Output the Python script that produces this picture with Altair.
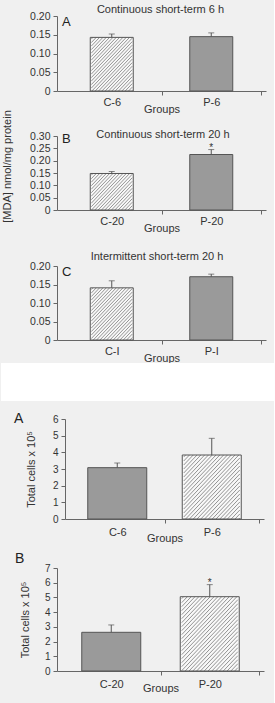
import altair as alt
import numpy as np
import pandas as pd

FONT = "Liberation Sans"

# Lipid peroxidation (MDA), mean and SEM per group
mda_a_groups = ["C-6", "P-6"]
mda_a_mean = [0.143, 0.145]
mda_a_sem = [0.009, 0.010]

mda_b_groups = ["C-20", "P-20"]
mda_b_mean = [0.148, 0.225]
mda_b_sem = [0.008, 0.020]

mda_c_groups = ["C-I", "P-I"]
mda_c_mean = [0.141, 0.171]
mda_c_sem = [0.019, 0.007]

# Total cell counts (x 10^5), mean and SEM per group
cells_a_groups = ["C-6", "P-6"]
cells_a_mean = [3.08, 3.84]
cells_a_sem = [0.28, 1.00]

cells_b_groups = ["C-20", "P-20"]
cells_b_mean = [2.63, 5.05]
cells_b_sem = [0.50, 0.82]

BAR_FILL = "#9a9a9a"
HATCH_BG = "#f8f8f8"
LINE = "#555555"


def hatch_segments(xs, means, hatched, bar_px, kx, ky, gap):
    """45-degree '/' hatch lines clipped to each hatched bar, in data units."""
    rows = []
    for x, m, h in zip(xs, means, hatched):
        if not h:
            continue
        x0 = x - bar_px / 2.0 / kx
        w = bar_px
        hh = m * ky
        for c in np.arange(-hh + gap / 2.0, w, gap):
            u0 = max(0.0, c)
            u1 = min(w, c + hh)
            if u1 <= u0:
                continue
            rows.append({
                "hx": x0 + u0 / kx, "hy": (u0 - c) / ky,
                "hx2": x0 + u1 / kx, "hy2": (u1 - c) / ky,
            })
    return pd.DataFrame(rows)


def panel(groups, mean, sem, hatched, stars, ymax, ystep, decimals, width, height,
          bar_px, gap, ytitle, ytitle_pad, title, title_x, title_y, letter,
          letter_x, letter_y, letter_size, label_pad, title_pad, ylabel_size,
          inset=0, band=None, ytitle_y=None):
    # the plot spans [inset, width] horizontally; the y axis sits at the inset
    kx = (width - inset) / 2.0
    ky = height / ymax
    xs = [i + 0.5 for i in range(len(groups))]
    df = pd.DataFrame({
        "x": xs, "group": groups, "mean": mean,
        "top": [m + s for m, s in zip(mean, sem)],
        "hatched": hatched,
        "star": ["*" if s else "" for s in stars],
    })
    label_expr = " : ".join(f"datum.value == {x} ? '{g}'" for x, g in zip(xs, groups)) + " : ''"
    xaxis = alt.Axis(
        values=[0.5, 1.0, 1.5, 2.0], labelExpr=label_expr, title="Groups",
        tickSize=4, labelPadding=label_pad, titlePadding=title_pad,
        tickOpacity={"condition": {"test": "datum.value == 1 || datum.value == 2", "value": 1},
                     "value": 0},
        labelFontSize=11, titleFontSize=11,
    )
    if inset:
        xscale = alt.Scale(domain=[0, 2], nice=False, zero=False, range=[inset, width])
    else:
        xscale = alt.Scale(domain=[0, 2], nice=False, zero=False)
    nticks = int(round(ymax / ystep))
    yvals = [round(i * ystep, 4) for i in range(nticks + 1)]
    if decimals:
        yexpr = f"datum.value == 0 ? '0' : format(datum.value, '.{decimals}f')"
    else:
        yexpr = "format(datum.value, 'd')"
    yaxis_kw = dict(values=yvals, labelExpr=yexpr, tickSize=4, labelPadding=3,
                    labelFontSize=ylabel_size)
    if inset:
        yaxis_kw["offset"] = -inset
    if ytitle:
        if ytitle_y is not None:
            yaxis_kw["titleY"] = ytitle_y
        yaxis = alt.Axis(title=ytitle, titlePadding=ytitle_pad, titleFontSize=11, **yaxis_kw)
    else:
        yaxis = alt.Axis(title=None, **yaxis_kw)
    yscale = alt.Scale(domain=[0, ymax], nice=False)

    def X(f):
        return alt.X(f, type="quantitative", scale=xscale, axis=xaxis)

    def Y(f):
        return alt.Y(f, type="quantitative", scale=yscale, axis=yaxis)

    base = alt.Chart(df)
    layers = []
    if band is not None:
        layers.append(
            alt.Chart(pd.DataFrame({"b": [0]})).mark_rect(color="white").encode(
                x=alt.value(band[0]), x2=alt.value(band[1]),
                y=alt.value(band[2]), y2=alt.value(band[3]))
        )
    fill = base.mark_bar(size=bar_px, strokeWidth=0).encode(
        x=X("x"), y=Y("mean"),
        fill=alt.condition("datum.hatched", alt.value(HATCH_BG), alt.value(BAR_FILL)),
    )
    layers.append(fill)
    hdf = hatch_segments(xs, mean, hatched, bar_px, kx, ky, gap)
    if len(hdf):
        layers.append(
            alt.Chart(hdf).mark_rule(color="#7a7a7a", strokeWidth=0.8).encode(
                x=X("hx"), x2="hx2", y=Y("hy"), y2="hy2")
        )
    outline = base.mark_bar(size=bar_px, fillOpacity=0, stroke=LINE, strokeWidth=1).encode(
        x=X("x"), y=Y("mean"))
    err = base.mark_rule(color=LINE, strokeWidth=1).encode(x=X("x"), y=Y("mean"), y2="top")
    cap = base.mark_tick(orient="horizontal", size=6, thickness=1, color=LINE).encode(
        x=X("x"), y=Y("top"))
    star = base.mark_text(baseline="middle", dy=-2, fontSize=10, font=FONT, color="#333").encode(
        x=X("x"), y=Y("top"), text="star:N")
    layers += [outline, err, cap, star]
    if title:
        layers.append(
            alt.Chart(pd.DataFrame({"t": [title]})).mark_text(
                font=FONT, fontSize=11, color="#333", align="center", baseline="alphabetic"
            ).encode(x=alt.value(title_x), y=alt.value(title_y), text="t:N")
        )
    layers.append(
        alt.Chart(pd.DataFrame({"t": [letter]})).mark_text(
            font=FONT, fontSize=letter_size, color="#222", align="left", baseline="alphabetic"
        ).encode(x=alt.value(letter_x), y=alt.value(letter_y), text="t:N")
    )
    return alt.layer(*layers).properties(width=width, height=height)


def gap_row(h):
    # empty row that holds the vertical gap between two panels
    return alt.Chart(pd.DataFrame({"s": [0]})).mark_point(opacity=0).encode(
        x=alt.value(0), y=alt.value(0)).properties(width=1, height=h)


p1 = panel(mda_a_groups, mda_a_mean, mda_a_sem, [True, False], [False, False],
           0.20, 0.05, 2, 209, 75, 43, 3.5, None, 0,
           "Continuous short-term 6 h", 103.5, -3, "A", 5, 10, 13, 1, -4, 10.5)
p2 = panel(mda_b_groups, mda_b_mean, mda_b_sem, [True, False], [False, True],
           0.30, 0.05, 2, 209, 74, 43, 3.5, "[MDA] nmol/mg protein", 17,
           "Continuous short-term 20 h", 106, 2, "B", 5, 7, 13, 1, -4, 10.5,
           ytitle_y=30)
p3 = panel(mda_c_groups, mda_c_mean, mda_c_sem, [True, False], [False, False],
           0.20, 0.05, 2, 209, 74, 43, 3.5, None, 0,
           "Intermittent short-term 20 h", 100, -6, "C", 5, 10, 13, 1, -4, 10.5)
p4 = panel(cells_a_groups, cells_a_mean, cells_a_sem, [False, True], [False, False],
           6, 1, 0, 207, 100, 59, 4, "Total cells x 10\u2075", 16,
           None, 0, 0, "A", -43, 4, 14, 3, -5, 10, inset=8, band=(-56, 217, -56, -18))
p5 = panel(cells_b_groups, cells_b_mean, cells_b_sem, [False, True], [False, True],
           7, 1, 0, 207, 103, 59, 4, "Total cells x 10\u2075", 14,
           None, 0, 0, "B", -42, -5, 14, 3, -7, 10)

stack = alt.vconcat(
    p1, gap_row(45), p2, gap_row(56), p3, gap_row(79), p4, gap_row(49), p5,
    spacing=0, bounds="flush",
)

chart = stack.properties(
    padding={"left": 1, "top": 4, "right": 0, "bottom": 10},
    background="#f0f0f0",
).configure_view(strokeWidth=0).configure_axis(
    grid=False,
    labelFont=FONT, titleFont=FONT,
    labelColor="#333", titleColor="#333",
    titleFontWeight="normal",
    domainColor="#666", tickColor="#666",
).configure_text(font=FONT)

chart.save("out.html", embed_options={"renderer": "svg", "actions": False})
